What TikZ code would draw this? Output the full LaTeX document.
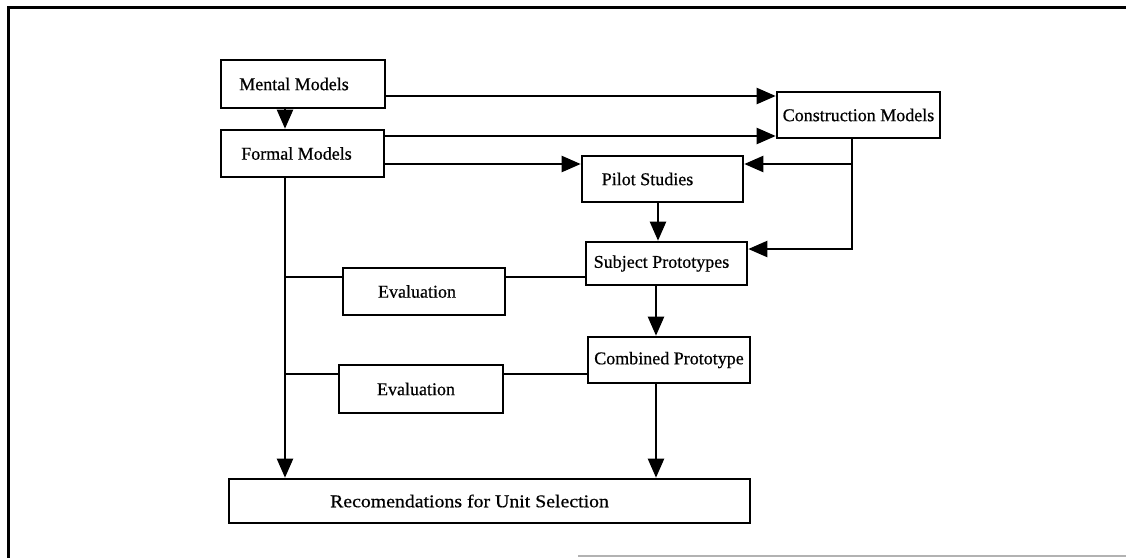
\documentclass[tikz,border=0pt]{standalone}
\usepackage{fontspec}
\setmainfont{Liberation Serif}
\newfontfamily\inkfont{Liberation Serif}[FakeBold=0.6]
\usetikzlibrary{arrows.meta}

\begin{document}
\begin{tikzpicture}[x=1pt,y=-1pt,
	box/.style={draw, line width=2.6pt, inner sep=0pt, font=\inkfont\fontsize{18}{20}\selectfont},
	link/.style={line width=2.2pt},
	arr/.style={link, -{Triangle[length=19pt,width=16pt]}}]
	\useasboundingbox (0,0) rectangle (1126,558);
	% frame, cut off at the right and the bottom
	\draw[line width=3pt] (1126,7) -- (8,7) -- (8,558);
	\draw[line width=1.5pt, gray!60] (578,556) -- (1126,556);

	\node[box, minimum width=164pt, minimum height=48pt] (MM) at (303,84) {Mental Models\kern18pt};
	\node[box, minimum width=163pt, minimum height=47pt] (FM) at (302.5,153.5) {Formal Models\kern12pt};
	\node[box, minimum width=163pt, minimum height=46pt] (CM) at (858.5,115) {Construction Models};
	\node[box, minimum width=161pt, minimum height=46pt] (PS) at (662.5,179) {Pilot Studies\kern30pt};
	\node[box, minimum width=161pt, minimum height=43pt] (SP) at (666.5,263.5) {Subject Prototypes\kern10pt};
	\node[box, minimum width=162pt, minimum height=47pt] (E1) at (424,291.5) {Evaluation\kern14pt};
	\node[box, minimum width=162pt, minimum height=46pt] (CP) at (669,360) {Combined Prototype};
	\node[box, minimum width=164pt, minimum height=48pt] (E2) at (421,389) {Evaluation\kern10pt};
	\node[box, minimum width=521pt, minimum height=44pt] (R) at (489.5,501) {\scalebox{1.1}[1]{Recomendations for Unit Selection}\kern40pt};

	\coordinate (spine) at (285,0);
	\coordinate (drop) at (852,0);
	\coordinate (colP) at (658,0);
	\coordinate (colC) at (656,0);
	\coordinate (r1) at (0,96);
	\coordinate (r2) at (0,136);
	\coordinate (r3) at (0,164);
	\coordinate (rA) at (0,249);
	\coordinate (rE1) at (0,277);
	\coordinate (rE2) at (0,374);

	\draw[arr] (MM.south -| spine) -- (FM.north -| spine);
	\draw[arr] (MM.east |- r1) -- (CM.west |- r1);
	\draw[arr] (FM.east |- r2) -- (CM.west |- r2);
	\draw[arr] (FM.east |- r3) -- (PS.west |- r3);
	\draw[arr] (CM.south -| drop) -- (drop |- rA) -- (SP.east |- rA);
	\draw[arr] (drop |- r3) -- (PS.east |- r3);
	\draw[arr] (PS.south -| colP) -- (SP.north -| colP);
	\draw[arr] (SP.south -| colC) -- (CP.north -| colC);
	\draw[arr] (CP.south -| colC) -- (R.north -| colC);
	\draw[arr] (FM.south -| spine) -- (R.north -| spine);
	\draw[link] (spine |- rE1) -- (E1.west |- rE1) (E1.east |- rE1) -- (SP.west |- rE1);
	\draw[link] (spine |- rE2) -- (E2.west |- rE2) (E2.east |- rE2) -- (CP.west |- rE2);
\end{tikzpicture}
\end{document}
